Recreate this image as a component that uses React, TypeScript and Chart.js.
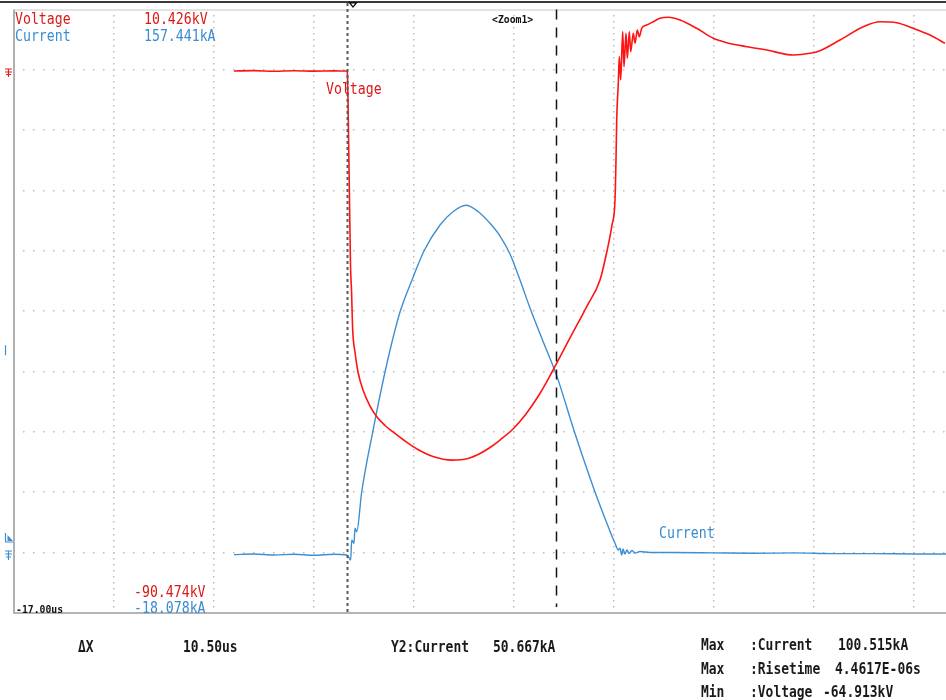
import { useEffect, useRef } from "react";
import { Chart, registerables } from "chart.js";

Chart.register(...registerables);

// Time axis (microseconds): left edge, right edge, 5 us per division
const timeStartUs = -17.0;
const timeEndUs = 29.6;
const usPerDiv = 5;

// Vertical ranges of the two channels (top/bottom of the screen)
const voltageTopKV = 10.426;
const voltageBottomKV = -90.474;
const currentTopKA = 157.441;
const currentBottomKA = -18.078;

// Cursor positions (us)
const cursor1Us = -0.35;
const cursor2Us = 10.15;
const triggerUs = 0;

// Voltage channel samples
const voltageTime = [
  -6.0, -5.0, -4.0, -3.0, -2.0, -1.0, -0.375, -0.335, -0.3, -0.225, -0.175, -0.125,
  -0.065, 0.05, 0.2, 0.45, 0.8, 1.15, 1.55, 1.95, 2.55, 3.15, 3.95, 4.9,
  5.7, 6.3, 6.8, 7.3, 7.95, 8.6, 9.25, 9.9, 10.8, 11.65, 12.3, 12.65, 12.9,
  13.05, 13.1, 13.135, 13.215, 13.265, 13.335, 13.435, 13.5, 13.6, 13.665, 13.765, 13.835,
  13.965, 14.05, 14.165, 14.265, 14.385, 14.635, 14.965, 15.3, 15.715, 16.3, 17.135, 17.965,
  18.635, 19.635, 20.635, 21.965, 22.8, 23.3, 24.3, 25.465, 26.3, 27.135, 27.965, 28.8, 29.55,
];
const voltageKV = [
  0.14, 0.2, 0.1, 0.18, 0.12, 0.16, 0.14, -0.02, -4.7, -21.42, -32.29, -36.47,
  -43.16, -46.84, -50.18, -53.19, -55.87, -57.7, -59.12, -60.21, -61.72, -63.05, -64.31, -64.913,
  -64.64, -63.81, -62.8, -61.55, -59.71, -57.2, -54.03, -50.18, -44.49, -39.15, -34.8, -29.95, -25.6,
  -21.42, -14.74, -8.05, -1.86, 2.54, -1.36, 6.72, 0.86, 6.45, 2.27, 6.72, 3.37,
  6.45, 4.78, 7.0, 5.88, 7.28, 7.83, 8.39, 8.95, 9.12, 8.67, 7.28, 5.61,
  4.88, 4.21, 3.65, 2.82, 3.1, 3.54, 5.33, 7.55, 8.39, 8.22, 7.28, 6.16, 4.78,
];

// Current channel samples
const currentTime = [
  -6.0, -5.0, -4.0, -3.0, -2.0, -1.0, -0.365, -0.285, -0.165, -0.115, 0.0, 0.05,
  0.135, 0.385, 0.935, 1.55, 1.9, 2.3, 2.9, 3.5, 4.3, 4.95, 5.6, 6.2,
  6.8, 7.3, 7.8, 8.3, 8.8, 9.385, 10.15, 11.025, 12.05, 12.6, 13.05, 13.215,
  13.3, 13.385, 13.45, 13.55, 13.65, 13.75, 13.9, 14.05, 14.3, 14.8,
  16.0, 18.0, 20.0, 22.0, 24.0, 26.0, 28.0, 29.6,
];
const currentKA = [
  -1.1, -0.9, -1.2, -1.0, -1.3, -1.0, -1.21, -1.71, -2.67, 3.15, 2.19, 6.55,
  5.56, 17.11, 34.56, 52.01, 60.74, 69.46, 78.77, 87.2, 94.76, 98.63, 100.515, 98.69,
  95.26, 91.56, 86.33, 78.77, 70.62, 61.9, 50.667, 34.56, 17.11, 8.67, 2.19, 0.24,
  0.74, -1.21, 0.54, -0.92, 0.24, -0.78, 0.1, -0.63, -0.2, -0.49,
  -0.5, -0.6, -0.7, -0.6, -0.8, -0.8, -0.9, -0.9,
];

// Readout texts
const headerLines = [
  { name: "Voltage", value: "10.426kV", color: "#dc1818" },
  { name: "Current", value: "157.441kA", color: "#3b8bd0" },
];
const footerValues = [
  { value: "-90.474kV", color: "#dc1818" },
  { value: "-18.078kA", color: "#3b8bd0" },
];
const startLabel = "-17.00us";
const zoomLabel = "<Zoom1>";
const deltaLabel = "\u0394X";
const deltaValue = "10.50us";
const y2Label = "Y2:Current";
const y2Value = "50.667kA";
const measureRows = [
  ["Max", ":Current", "100.515kA"],
  ["Max", ":Risetime", "4.4617E-06s"],
  ["Min", ":Voltage", "-64.913kV"],
];

const RED = "#ff1414";
const BLUE = "#3d8fd2";
const MONO = '"DejaVu Sans Mono", "Liberation Mono", monospace';

function drawText(
  ctx: CanvasRenderingContext2D,
  text: string,
  x: number,
  y: number,
  size: number,
  color: string,
  sx: number,
  bold = false
) {
  ctx.save();
  ctx.font = `${bold ? "bold " : ""}${size}px ${MONO}`;
  ctx.fillStyle = color;
  ctx.textBaseline = "alphabetic";
  ctx.textAlign = "left";
  ctx.translate(x, y);
  ctx.scale(sx, 1);
  ctx.fillText(text, 0, 0);
  ctx.restore();
}

const scopeGrid = {
  id: "scopeGrid",
  beforeDatasetsDraw(chart: any) {
    const { ctx, chartArea: a, scales } = chart;
    const sx = scales.x;
    const sv = scales.yV;
    const vDiv = (voltageTopKV - voltageBottomKV) / 10;
    ctx.save();
    ctx.fillStyle = "#bcbcbc";
    const dotStepX = sx.getPixelForValue(timeStartUs + usPerDiv / 10) - sx.getPixelForValue(timeStartUs);
    const dotStepY = sv.getPixelForValue(voltageTopKV - vDiv / 10) - sv.getPixelForValue(voltageTopKV);
    // horizontal division lines
    for (let k = 1; k < 10; k++) {
      const py = Math.round(sv.getPixelForValue(voltageTopKV - k * vDiv));
      for (let px = a.left + dotStepX; px < a.right; px += dotStepX) {
        ctx.fillRect(Math.round(px) - 1, py - 1, 1.5, 1.5);
      }
    }
    // vertical division lines
    for (let k = 1; timeStartUs + k * usPerDiv < timeEndUs; k++) {
      const px = Math.round(sx.getPixelForValue(timeStartUs + k * usPerDiv));
      for (let py = a.top + dotStepY; py < a.bottom; py += dotStepY) {
        ctx.fillRect(px - 1, Math.round(py) - 1, 1.5, 1.5);
      }
    }
    // frame
    ctx.strokeStyle = "#c8c8c8";
    ctx.lineWidth = 1;
    ctx.beginPath();
    ctx.moveTo(a.left, a.top + 0.5);
    ctx.lineTo(a.right, a.top + 0.5);
    ctx.stroke();
    ctx.strokeStyle = "#9c9c9c";
    ctx.lineWidth = 1.6;
    ctx.beginPath();
    ctx.moveTo(a.left, a.top);
    ctx.lineTo(a.left, a.bottom);
    ctx.lineTo(a.right, a.bottom);
    ctx.stroke();
    ctx.strokeStyle = "#3a3a3a";
    ctx.lineWidth = 2;
    ctx.beginPath();
    ctx.moveTo(0, 2);
    ctx.lineTo(chart.width, 2);
    ctx.stroke();
    ctx.restore();
  },
  afterDatasetsDraw(chart: any) {
    const { ctx, chartArea: a, scales } = chart;
    const sx = scales.x;
    const sv = scales.yV;
    const si = scales.yI;
    ctx.save();
    // cursor 1
    const c1 = Math.round(sx.getPixelForValue(cursor1Us)) + 0.5;
    ctx.strokeStyle = "#5a5a5a";
    ctx.lineWidth = 2;
    ctx.setLineDash([3, 3]);
    ctx.beginPath();
    ctx.moveTo(c1, 3);
    ctx.lineTo(c1, a.bottom);
    ctx.stroke();
    // cursor 2
    const c2 = Math.round(sx.getPixelForValue(cursor2Us)) - 0.5;
    ctx.strokeStyle = "#111111";
    ctx.lineWidth = 1.5;
    ctx.setLineDash([10, 8]);
    ctx.beginPath();
    ctx.moveTo(c2, a.top);
    ctx.lineTo(c2, a.bottom - 6);
    ctx.stroke();
    ctx.setLineDash([]);

    // trigger marker
    const tx = sx.getPixelForValue(triggerUs) - 1;
    ctx.fillStyle = "#111111";
    ctx.beginPath();
    ctx.moveTo(tx - 5, 2);
    ctx.lineTo(tx + 5, 2);
    ctx.lineTo(tx, 8);
    ctx.closePath();
    ctx.fill();
    ctx.fillStyle = "#ffffff";
    ctx.beginPath();
    ctx.moveTo(tx - 2, 3.5);
    ctx.lineTo(tx + 2, 3.5);
    ctx.lineTo(tx, 6);
    ctx.closePath();
    ctx.fill();

    // channel ground markers on the left
    const gV = Math.round(sv.getPixelForValue(0));
    ctx.strokeStyle = "#e02020";
    ctx.lineWidth = 1.2;
    ctx.beginPath();
    ctx.moveTo(5, gV - 3); ctx.lineTo(12, gV - 3);
    ctx.moveTo(8.5, gV - 3); ctx.lineTo(8.5, gV + 5);
    ctx.moveTo(5, gV); ctx.lineTo(12, gV);
    ctx.moveTo(6, gV + 2.5); ctx.lineTo(11, gV + 2.5);
    ctx.stroke();
    const gI = Math.round(si.getPixelForValue(0)) + 3;
    ctx.strokeStyle = BLUE;
    ctx.beginPath();
    ctx.moveTo(5, gI - 3); ctx.lineTo(12, gI - 3);
    ctx.moveTo(8.5, gI - 3); ctx.lineTo(8.5, gI + 6);
    ctx.moveTo(5, gI); ctx.lineTo(12, gI);
    ctx.moveTo(6, gI + 3); ctx.lineTo(11, gI + 3);
    ctx.stroke();
    // current trigger level marker
    const tl = gI - 16;
    ctx.beginPath();
    ctx.moveTo(5.5, tl - 5); ctx.lineTo(5.5, tl + 4); ctx.lineTo(13, tl + 4);
    ctx.stroke();
    ctx.fillStyle = BLUE;
    ctx.beginPath();
    ctx.moveTo(7.5, tl - 3); ctx.lineTo(13, tl + 3); ctx.lineTo(7.5, tl + 3);
    ctx.closePath();
    ctx.fill();
    ctx.beginPath();
    ctx.moveTo(5.5, (a.top + a.bottom) / 2 + 34);
    ctx.lineTo(5.5, (a.top + a.bottom) / 2 + 44);
    ctx.stroke();
    ctx.restore();

    // header readouts
    headerLines.forEach((h, i) => {
      const by = 24 + i * 17;
      drawText(ctx, h.name, 15, by, 15, h.color, 0.88);
      drawText(ctx, h.value, 144, by, 15, h.color, 0.88);
    });
    footerValues.forEach((f, i) => {
      drawText(ctx, f.value, 134, 597 + i * 16, 15, f.color, 0.88);
    });
    drawText(ctx, startLabel, 16, 613, 11, "#111111", 0.89, true);
    drawText(ctx, zoomLabel, 492, 23, 11, "#111111", 0.89, true);

    // trace labels
    drawText(ctx, "Voltage", 326, 94, 15, "#dc1818", 0.88);
    drawText(ctx, "Current", 659, 538, 15, "#3b8bd0", 0.88);

    // measurement block
    const ink = "#1a1a1a";
    drawText(ctx, deltaLabel, 78, 652, 16, ink, 0.81, true);
    drawText(ctx, deltaValue, 183, 652, 16, ink, 0.81, true);
    drawText(ctx, y2Label, 391, 652, 16, ink, 0.81, true);
    drawText(ctx, y2Value, 493, 652, 16, ink, 0.81, true);
    const valueX = [838, 835, 823];
    measureRows.forEach((r, i) => {
      const by = 650 + i * 23.5;
      drawText(ctx, r[0], 701, by, 16, ink, 0.81, true);
      drawText(ctx, r[1], 750, by, 16, ink, 0.81, true);
      drawText(ctx, r[2], valueX[i], by, 16, ink, 0.81, true);
    });
  },
};

export default function App() {
  const canvasRef = useRef<HTMLCanvasElement | null>(null);

  useEffect(() => {
    document.body.style.margin = "0";
    const canvas = canvasRef.current;
    if (!canvas) return;
    const chart = new Chart(canvas, {
      type: "line",
      data: {
        datasets: [
          {
            label: "Voltage",
            data: voltageTime.map((t, i) => ({ x: t, y: voltageKV[i] })),
            borderColor: RED,
            borderWidth: 1.6,
            pointRadius: 0,
            cubicInterpolationMode: "monotone",
            yAxisID: "yV",
          },
          {
            label: "Current",
            data: currentTime.map((t, i) => ({ x: t, y: currentKA[i] })),
            borderColor: BLUE,
            borderWidth: 1.4,
            pointRadius: 0,
            cubicInterpolationMode: "monotone",
            yAxisID: "yI",
          },
        ],
      },
      options: {
        responsive: false,
        animation: false,
        devicePixelRatio: 1,
        layout: { padding: { left: 14, top: 9.5, right: 0, bottom: 87 } },
        plugins: {
          legend: { display: false },
          tooltip: { enabled: false },
        },
        scales: {
          x: { type: "linear", min: timeStartUs, max: timeEndUs, display: false },
          yV: { type: "linear", min: voltageBottomKV, max: voltageTopKV, display: false },
          yI: { type: "linear", min: currentBottomKA, max: currentTopKA, display: false },
        },
      },
      plugins: [scopeGrid],
    });
    return () => chart.destroy();
  }, []);

  return (
    <div style={{ position: "absolute", left: 0, top: 0, width: 946, height: 700, background: "#ffffff" }}>
      <canvas ref={canvasRef} width={946} height={700} />
    </div>
  );
}
